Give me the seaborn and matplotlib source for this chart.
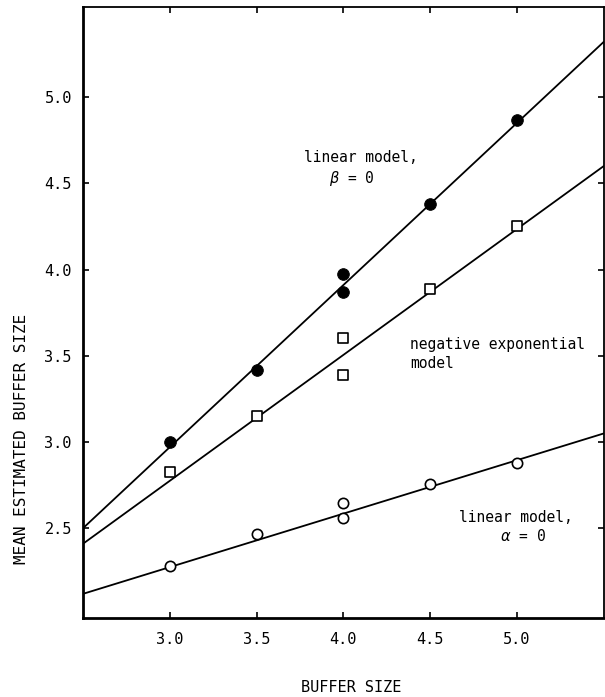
import matplotlib
matplotlib.use("Agg")
import matplotlib.pyplot as plt
import seaborn as sns
import pandas as pd

# buffer sizes (x) and mean estimated buffer sizes for each model
buffer_size = [3.0, 3.5, 4.0, 4.0, 4.5, 5.0]
linear_beta0 = [3.00, 3.42, 3.975, 3.87, 4.38, 4.867]
neg_exp = [2.825, 3.15, 3.604, 3.39, 3.89, 4.25]
linear_alpha0 = [2.28, 2.465, 2.649, 2.558, 2.755, 2.88]

# fitted lines, read at the axis ends
fit_x = [2.5, 5.5]
fit_beta0 = [2.50, 5.32]
fit_negexp = [2.41, 4.60]
fit_alpha0 = [2.12, 3.05]

xticks = [3.0, 3.5, 4.0, 4.5, 5.0]
yticks = [2.5, 3.0, 3.5, 4.0, 4.5, 5.0]

sns.set_style("ticks", {'axes.edgecolor': 'black', 'text.color': 'black',
                        'xtick.color': 'black', 'ytick.color': 'black',
                        'axes.labelcolor': 'black'})
plt.rcParams['font.family'] = ['DejaVu Sans Mono', 'DejaVu Sans']

fig = plt.figure(figsize=(6.05, 6.97), dpi=100)
ax = fig.add_axes([0.137, 0.1133, 0.861, 0.8762])

for fy in [fit_beta0, fit_negexp, fit_alpha0]:
    sns.lineplot(x=fit_x, y=fy, ax=ax, color='black', lw=1.3)

sns.scatterplot(x=buffer_size, y=linear_beta0, ax=ax, marker='o', s=70,
                color='black', edgecolor='black', zorder=5)
sns.scatterplot(x=buffer_size, y=neg_exp, ax=ax, marker='s', s=45,
                facecolor='white', edgecolor='black', linewidth=1.2, zorder=5)
sns.scatterplot(x=buffer_size, y=linear_alpha0, ax=ax, marker='o', s=55,
                facecolor='white', edgecolor='black', linewidth=1.2, zorder=5)

ax.set_xlim(2.5, 5.5)
ax.set_ylim(1.98, 5.52)
ax.set_xticks(xticks)
ax.set_yticks(yticks)
ax.set_xticklabels([f"{t:.1f}" for t in xticks], fontsize=11)
ax.set_yticklabels([f"{t:.1f}" for t in yticks], fontsize=11)
ax.tick_params(direction='in', length=4, width=1.2, top=True, right=True)
ax.tick_params(axis='x', pad=10)
ax.tick_params(axis='y', pad=8)

for side in ['left', 'bottom']:
    ax.spines[side].set_linewidth(2.0)
for side in ['top', 'right']:
    ax.spines[side].set_linewidth(1.3)

ax.text(3.776, 4.652, "linear model,", fontsize=10.5, ha='left', va='center')
ax.text(3.92, 4.53, r"$\beta$ = 0", fontsize=10.5, ha='left', va='center')
ax.text(4.385, 3.565, "negative exponential", fontsize=10.5, ha='left', va='center')
ax.text(4.385, 3.455, "model", fontsize=10.5, ha='left', va='center')
ax.text(4.667, 2.565, "linear model,", fontsize=10.5, ha='left', va='center')
ax.text(4.90, 2.455, r"$\alpha$ = 0", fontsize=10.5, ha='left', va='center')

ax.set_xlabel("")
ax.set_ylabel("")
fig.text(0.58, 0.014, "BUFFER SIZE", fontsize=11, ha='center', va='center')
fig.text(0.036, 0.37, "MEAN ESTIMATED BUFFER SIZE", fontsize=11.5,
         rotation=90, ha='center', va='center')

fig.savefig("out.png", dpi=100)
